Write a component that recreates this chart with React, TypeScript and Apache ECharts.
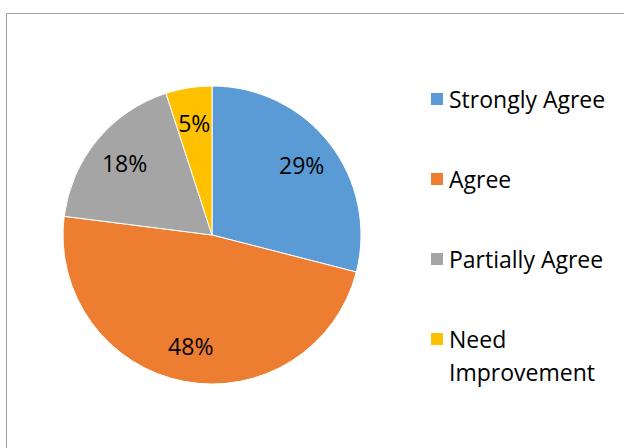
import React, { useEffect, useRef } from "react";
import * as echarts from "echarts";

const categories = ["Strongly Agree", "Agree", "Partially Agree", "Need Improvement"];
const values = [29, 48, 18, 5];
const colors = ["#5B9BD5", "#ED7D31", "#A5A5A5", "#FFC000"];
const legendLines = [["Strongly Agree"], ["Agree"], ["Partially Agree"], ["Need", "Improvement"]];

const FONT = "'Open Sans', sans-serif";
const FS = 23;
const LH = 33;

export default function App() {
  const ref = useRef<HTMLDivElement>(null);
  useEffect(() => {
    if (!ref.current) return;
    const chart = echarts.init(ref.current, null, { renderer: "svg" });
    const data = categories.map((name, i) => ({
      name,
      value: values[i],
      itemStyle: { color: colors[i] },
    }));
    const legendCenters = [99, 179, 259, 339];
    const legends = categories.map((name, i) => {
      const lines = legendLines[i];
      const multi = lines.length > 1;
      return {
        orient: "vertical",
        left: 429,
        padding: 0,
        top: multi ? legendCenters[i] - (LH * (2 * lines.length - 1)) / 2 : legendCenters[i] - LH / 2,
        data: [name],
        icon: "rect",
        itemWidth: 14,
        itemHeight: 14,
        selectedMode: false,
        formatter: () =>
          multi
            ? ["{e| }"].concat(lines.map((l) => "{t|" + l + "}")).join("\n")
            : lines[0],
        textStyle: {
          fontFamily: FONT,
          fontSize: FS,
          color: "#000",
          lineHeight: LH,
          rich: {
            e: { fontFamily: FONT, fontSize: FS, lineHeight: LH, height: LH },
            t: { fontFamily: FONT, fontSize: FS, lineHeight: LH, color: "#000" },
          },
        },
      };
    });
    chart.setOption({
      animation: false,
      backgroundColor: "#fff",
      legend: legends,
      graphic: [
        {
          type: "rect",
          shape: { x: 6.5, y: 13.5, width: 700, height: 500 },
          style: { fill: "none", stroke: "#a0a0a0", lineWidth: 1 },
          silent: true,
        },
      ],
      series: [
        {
          type: "pie",
          center: [212, 235],
          radius: [0, 149],
          startAngle: 90,
          clockwise: true,
          data,
          label: { show: false },
          labelLine: { show: false },
          itemStyle: { borderColor: "#fff", borderWidth: 1 },
          emphasis: { disabled: true },
        },
        {
          type: "pie",
          center: [212, 235],
          radius: [72, 149],
          startAngle: 90,
          clockwise: true,
          silent: true,
          data: categories.map((name, i) => ({ name, value: values[i] })),
          itemStyle: { color: "rgba(0,0,0,0)" },
          label: {
            show: true,
            position: "inside",
            formatter: "{c}%",
            fontFamily: FONT,
            fontSize: FS,
            color: "#000",
          },
          labelLine: { show: false },
          emphasis: { disabled: true },
        },
      ],
    });
    return () => chart.dispose();
  }, []);
  return (
    <div
      ref={ref}
      style={{ position: "fixed", left: 0, top: 0, width: 624, height: 448 }}
    />
  );
}
